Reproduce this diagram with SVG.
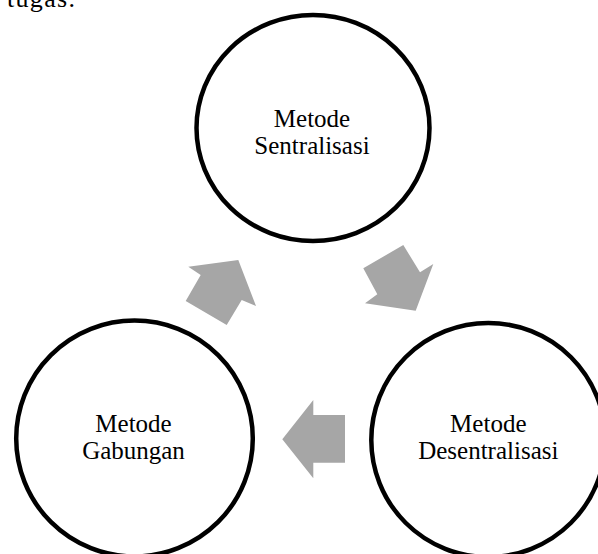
<svg xmlns="http://www.w3.org/2000/svg" width="598" height="554" viewBox="0 0 598 554">
<style>
.node{fill:#fff;stroke:#000;stroke-width:4.5}
.lbl{font-family:"Liberation Serif","Times New Roman",serif;font-size:25px;fill:#000;text-anchor:middle}
.arr{fill:#a6a6a6;stroke:none}
</style>
<rect width="598" height="554" fill="#fff"/>
<text x="7" y="6.5" style="font-family:'Liberation Serif','Times New Roman',serif;font-size:26px;fill:#000" textLength="68" lengthAdjust="spacing">tugas.</text>
<g id="node-sentralisasi">
<ellipse class="node" cx="313" cy="128" rx="116.5" ry="113"/>
<text class="lbl" x="312" y="126.7">Metode</text>
<text class="lbl" x="312" y="154">Sentralisasi</text>
</g>
<g id="node-desentralisasi">
<ellipse class="node" cx="488.3" cy="440" rx="117" ry="117"/>
<text class="lbl" x="488.3" y="431.7">Metode</text>
<text class="lbl" x="488.3" y="459.3">Desentralisasi</text>
</g>
<g id="node-gabungan">
<ellipse class="node" cx="134.5" cy="438.5" rx="118.3" ry="118"/>
<text class="lbl" x="133.5" y="431.7">Metode</text>
<text class="lbl" x="133.5" y="459.3">Gabungan</text>
</g>
<g id="connectors">
<polygon class="arr" points="363.3,268.3 403.3,245 420,272.3 433.3,264 415.7,310.7 365,303.3 377.3,294.3"/>
<polygon class="arr" points="345,415 313.3,415 313.3,400 282.3,439.3 313.3,478.3 313.3,462.7 345,462.7"/>
<polygon class="arr" points="188.3,266.7 238.3,260 256,306 241.7,300 226.7,325 185.7,301 200.7,275"/>
</g>
</svg>
